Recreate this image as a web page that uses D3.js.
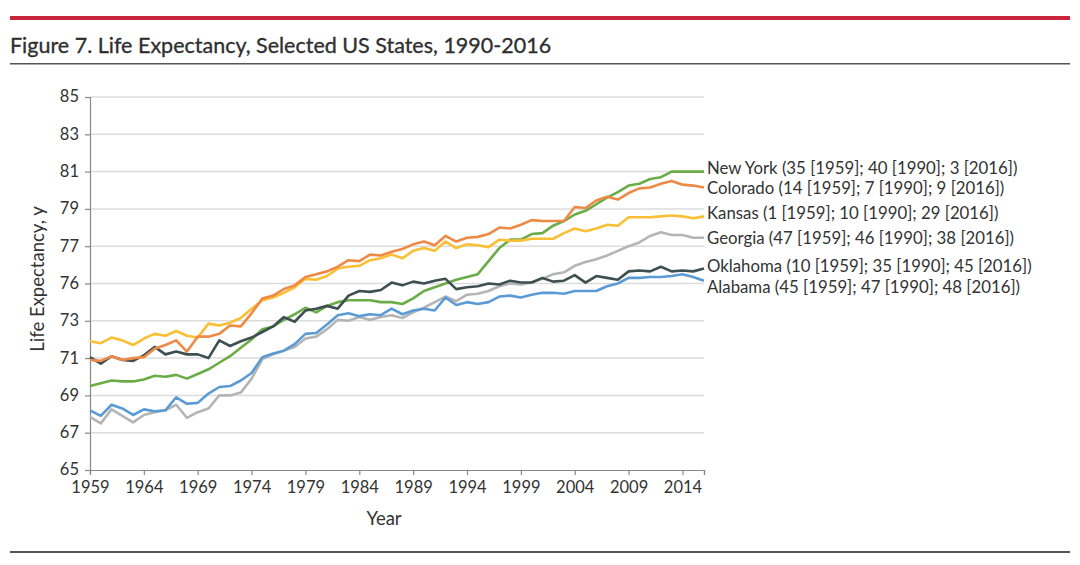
<!DOCTYPE html>
<html>
<head>
<meta charset="utf-8">
<script src="https://cdn.jsdelivr.net/npm/d3@7"></script>
<style>
  body { margin: 0; background: #fff; }
  svg { display: block; }
  text { font-family: Lato, "Open Sans", sans-serif; fill: #333; }
</style>
</head>
<body>
<svg id="chart" width="1080" height="565"></svg>
<script>
const years = d3.range(1959, 2017);

const newYork = [69.5,69.65,69.8,69.75,69.75,69.85,70.05,70.0,70.1,69.9,70.15,70.4,70.75,71.1,71.55,72.0,72.55,72.7,73.05,73.35,73.7,73.45,73.8,74.0,74.1,74.1,74.1,74.0,74.0,73.9,74.2,74.6,74.8,75.0,75.2,75.35,75.5,76.2,76.9,77.35,77.35,77.65,77.7,78.1,78.35,78.7,78.9,79.25,79.6,79.9,80.25,80.35,80.6,80.7,81.0,81.0,81.0,81.0];
const colorado = [70.9,70.85,71.1,70.9,71.0,71.05,71.5,71.7,71.95,71.35,72.15,72.15,72.3,72.75,72.7,73.4,74.2,74.35,74.7,74.9,75.35,75.5,75.65,75.9,76.25,76.2,76.55,76.5,76.7,76.85,77.1,77.25,77.05,77.55,77.25,77.45,77.5,77.65,78.0,77.95,78.15,78.4,78.35,78.35,78.35,79.1,79.05,79.45,79.65,79.5,79.85,80.1,80.15,80.35,80.5,80.3,80.25,80.15];
const kansas = [71.9,71.8,72.1,71.95,71.7,72.05,72.3,72.2,72.45,72.2,72.1,72.85,72.75,72.9,73.15,73.65,74.1,74.25,74.5,74.8,75.25,75.2,75.4,75.8,75.9,75.95,76.25,76.35,76.55,76.35,76.75,76.9,76.75,77.25,76.9,77.1,77.05,76.95,77.35,77.3,77.3,77.4,77.4,77.4,77.7,77.95,77.8,77.95,78.15,78.1,78.55,78.55,78.55,78.6,78.65,78.6,78.5,78.6];
const georgia = [67.85,67.5,68.25,67.9,67.55,67.95,68.1,68.2,68.5,67.8,68.1,68.3,69.0,69.0,69.15,69.9,70.95,71.2,71.4,71.6,72.05,72.15,72.55,73.05,73.0,73.2,73.05,73.2,73.3,73.15,73.45,73.7,74.0,74.3,74.05,74.4,74.45,74.6,74.85,75.0,74.95,75.05,75.25,75.5,75.6,75.95,76.15,76.3,76.5,76.75,77.0,77.2,77.55,77.75,77.6,77.6,77.45,77.45];
const oklahoma = [71.05,70.7,71.1,70.9,70.85,71.15,71.6,71.2,71.35,71.2,71.2,71.0,71.95,71.65,71.9,72.1,72.4,72.7,73.2,72.95,73.55,73.65,73.8,73.65,74.35,74.6,74.55,74.65,75.05,74.9,75.1,75.0,75.15,75.25,74.7,74.8,74.85,75.0,74.95,75.15,75.05,75.05,75.3,75.1,75.15,75.45,75.05,75.4,75.3,75.2,75.65,75.7,75.65,75.9,75.65,75.7,75.65,75.8];
const alabama = [68.2,67.9,68.5,68.3,67.95,68.25,68.15,68.2,68.9,68.55,68.6,69.1,69.45,69.5,69.8,70.2,71.05,71.25,71.4,71.75,72.3,72.35,72.8,73.3,73.4,73.25,73.35,73.3,73.65,73.35,73.55,73.65,73.55,74.25,73.85,74.0,73.9,74.0,74.3,74.35,74.25,74.4,74.5,74.5,74.45,74.6,74.6,74.6,74.85,75.0,75.3,75.3,75.35,75.35,75.4,75.5,75.35,75.15];

const seriesNames = ["Georgia","Alabama","New York","Oklahoma","Kansas","Colorado"];
const seriesValues = [georgia, alabama, newYork, oklahoma, kansas, colorado];
const seriesColors = ["#b5b5b5","#5b9bd5","#6aac46","#3e4f52","#fbbf35","#ee8a45"];
const seriesLabels = [
  "Georgia (47 [1959]; 46 [1990]; 38 [2016])",
  "Alabama (45 [1959]; 47 [1990]; 48 [2016])",
  "New York (35 [1959]; 40 [1990]; 3 [2016])",
  "Oklahoma (10 [1959]; 35 [1990]; 45 [2016])",
  "Kansas (1 [1959]; 10 [1990]; 29 [2016])",
  "Colorado (14 [1959]; 7 [1990]; 9 [2016])"
];
const labelY = [238, 287, 168, 266, 213, 188];

const yTickValues = [65,67,69,71,73,75,77,79,81,83,85];
const yTickLabels = ["65","67","69","71","73","76","77","79","81","83","85"];
const xTickValues = [1959,1964,1969,1974,1979,1984,1989,1994,1999,2004,2009,2014,2016];
const xTickLabels = ["1959","1964","1969","1974","1979","1984","1989","1994","1999","2004","2009","2014",""];

const svg = d3.select("#chart");
const x = d3.scaleLinear().domain([1959, 2016]).range([90, 704]);
const y = d3.scaleLinear().domain([65, 85]).range([470, 97]);

// header rules
svg.append("rect").attr("x", 10).attr("y", 16).attr("width", 1060).attr("height", 4).attr("fill", "#c8243a");
svg.append("text").attr("x", 10).attr("y", 53).attr("font-size", 21.5).attr("fill", "#1a1a1a")
  .attr("stroke", "#1a1a1a").attr("stroke-width", 0.3)
  .text("Figure 7. Life Expectancy, Selected US States, 1990-2016");
svg.append("rect").attr("x", 10).attr("y", 63).attr("width", 1060).attr("height", 1.5).attr("fill", "#555");
svg.append("rect").attr("x", 10).attr("y", 551).attr("width", 1060).attr("height", 2).attr("fill", "#555");

// gridlines
svg.append("g").selectAll("line").data(yTickValues.filter(v => v !== 65)).join("line")
  .attr("x1", 90).attr("x2", 704)
  .attr("y1", d => y(d)).attr("y2", d => y(d))
  .attr("stroke", "#dcdcdc").attr("stroke-width", 1.5);

// axes
const yAxis = d3.axisLeft(y).tickValues(yTickValues)
  .tickFormat((d, i) => yTickLabels[i]).tickSize(5).tickPadding(6);
const gy = svg.append("g").attr("transform", "translate(90,0)").call(yAxis);
const xAxis = d3.axisBottom(x).tickValues(xTickValues)
  .tickFormat((d, i) => xTickLabels[i]).tickSize(5).tickPadding(6);
const gx = svg.append("g").attr("transform", "translate(0,470)").call(xAxis);
[gx, gy].forEach(g => {
  g.select(".domain").attr("stroke", "#888").attr("stroke-width", 1.2);
  g.selectAll(".tick line").attr("stroke", "#888").attr("stroke-width", 1.2);
  g.selectAll(".tick text").attr("font-size", 16.5).attr("fill", "#333")
    .attr("font-family", "Lato, 'Open Sans', sans-serif");
});
gy.selectAll(".tick text").attr("dy", "0.3em");

// axis titles
svg.append("text").attr("transform", "translate(44,279) rotate(-90)")
  .attr("text-anchor", "middle").attr("font-size", 18.5).text("Life Expectancy, y");
svg.append("text").attr("x", 384).attr("y", 525)
  .attr("text-anchor", "middle").attr("font-size", 18.5).text("Year");

// lines
const line = d3.line().x((d, i) => x(years[i])).y(d => y(d));
svg.append("g").selectAll("path").data(seriesValues).join("path")
  .attr("d", d => line(d))
  .attr("fill", "none")
  .attr("stroke", (d, i) => seriesColors[i])
  .attr("stroke-width", 2.6)
  .attr("stroke-linejoin", "round");

// labels
svg.append("g").selectAll("text").data(seriesLabels).join("text")
  .attr("x", 707).attr("y", (d, i) => labelY[i])
  .attr("dy", "0.35em").attr("font-size", 16.8).attr("fill", "#333")
  .text(d => d);
</script>
</body>
</html>
